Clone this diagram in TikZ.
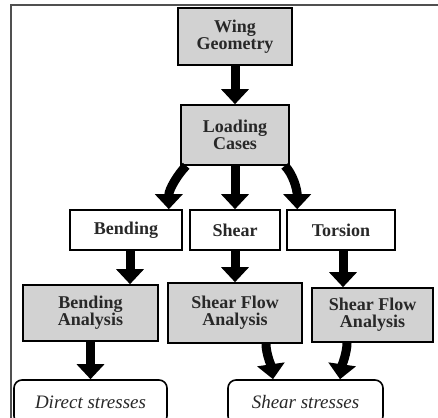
\documentclass[tikz,border=0pt]{standalone}
\usepackage{fontspec}
\setmainfont{Liberation Serif}
\usetikzlibrary{arrows.meta}
\definecolor{boxgray}{RGB}{210,210,210}
\definecolor{framegray}{RGB}{80,80,80}
\definecolor{txt}{RGB}{40,40,40}
\begin{document}
\begin{tikzpicture}[x=1pt,y=-1pt,
  box/.style={draw=black,line width=1.6pt,align=center,inner sep=0pt,text=txt,
    font=\bfseries\fontsize{18}{17}\selectfont},
  graybox/.style={box,fill=boxgray},
  whitebox/.style={box,fill=white},
  endbox/.style={draw=black,line width=1.6pt,rounded corners=8pt,fill=white,inner sep=0pt,text=txt,
    font=\itshape\fontsize{19}{20}\selectfont},
  bigarrow/.style={line width=9pt,-{Triangle[width=27pt,length=15pt]}}]
\useasboundingbox (0,0) rectangle (438,417);
\clip (0,0) rectangle (438,417);
\fill[white] (0,0) rectangle (438,417);
\draw[line width=1.5pt,framegray] (11,420) -- (11,5) -- (440,5);

\node[graybox,minimum width=114pt,minimum height=57pt] (wing) at (235,36.5) {Wing\\Geometry};
\node[graybox,minimum width=108pt,minimum height=60pt] (load) at (235,135) {Loading\\Cases};

\node[whitebox,minimum width=112pt,minimum height=40pt] (bend) at (126,230) {Bending};
\node[whitebox,minimum width=90pt,minimum height=40pt] (shear) at (235,230) {Shear};
\node[whitebox,minimum width=108pt,minimum height=40pt] (tors) at (341,230) {Torsion};

\node[graybox,minimum width=135pt,minimum height=56pt] (banal) at (90.5,313) {Bending\\Analysis};
\node[graybox,minimum width=134pt,minimum height=60pt] (sfa) at (235,313) {Shear Flow\\Analysis};
\node[graybox,minimum width=121pt,minimum height=54pt] (tanal) at (372.5,315) {Shear Flow\\Analysis};

\node[endbox,minimum width=153pt,minimum height=44pt] (direct) at (90.5,402) {Direct stresses};
\node[endbox,minimum width=155pt,minimum height=44pt] (sst) at (305.5,402) {Shear stresses};

\draw[bigarrow] (wing.south) -- (load.north);

\draw[bigarrow] ([xshift=6pt]load.south west) .. controls +(-8,8) and +(0,-20) .. ([xshift=-14pt]bend.north east);
\draw[bigarrow] (load.south) -- (shear.north);
\draw[bigarrow] ([xshift=-5pt]load.south east) .. controls +(8,8) and +(0,-20) .. ([xshift=11pt]tors.north west);

\draw[bigarrow] ([xshift=4pt]bend.south) -- ([xshift=4pt]bend.south |- banal.north);
\draw[bigarrow] (shear.south) -- (sfa.north);
\draw[bigarrow] ([xshift=2pt]tors.south) -- ([xshift=2pt]tors.south |- tanal.north);

\draw[bigarrow] (banal.south) -- (direct.north);
\draw[bigarrow] ([xshift=31pt]sfa.south) .. controls +(0,10) and +(-2,-14) .. ([xshift=-32.5pt]sst.north);
\draw[bigarrow] ([xshift=-25.5pt]tanal.south) .. controls +(0,10) and +(2,-14) .. ([xshift=34.5pt]sst.north);
\end{tikzpicture}
\end{document}
